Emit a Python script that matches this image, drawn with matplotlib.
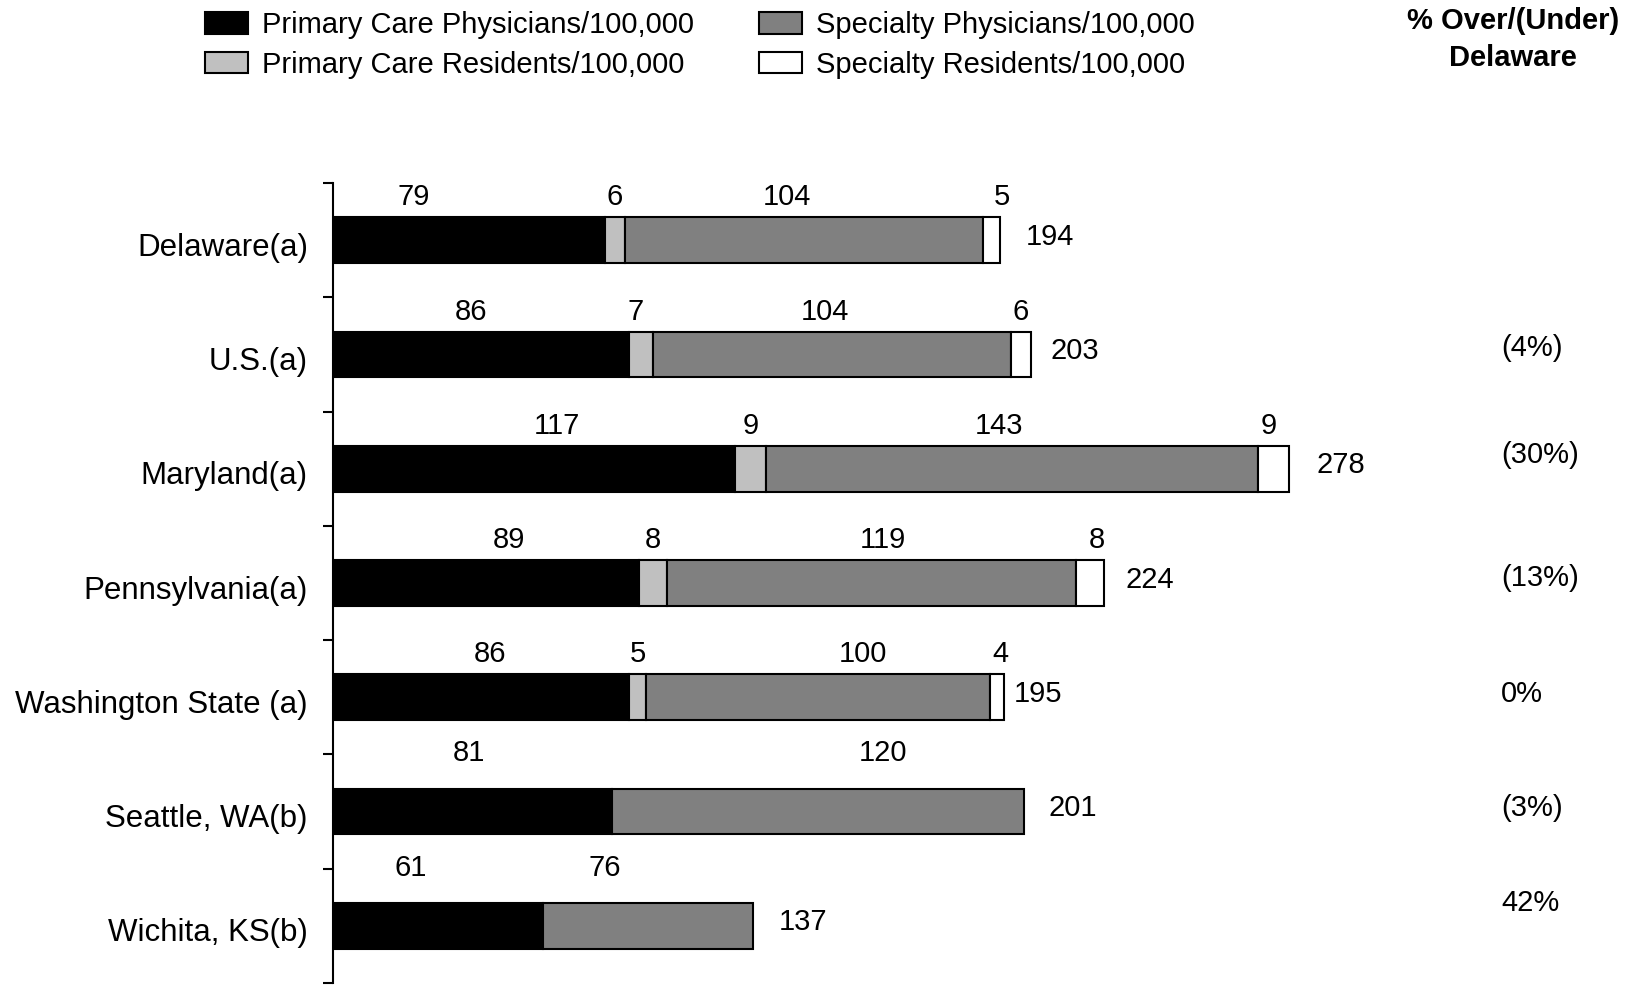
import numpy as np
import matplotlib
matplotlib.use("Agg")
import matplotlib.pyplot as plt
from matplotlib.patches import Patch
from matplotlib.transforms import ScaledTranslation

plt.rcParams['font.family'] = ['Liberation Sans', 'DejaVu Sans']

# data (bar lengths as drawn)
categories = ["Delaware(a)", "U.S.(a)", "Maryland(a)", "Pennsylvania(a)",
              "Washington State (a)", "Seattle, WA(b)", "Wichita, KS(b)"]
pc_phys = [79, 86, 117, 89, 86, 81, 61]
pc_res = [6, 7, 9, 8, 5, None, None]
sp_phys = [104, 104, 143, 119, 100, 120, 61]   # Wichita bar is drawn shorter than its label
sp_res = [5, 6, 9, 8, 4, None, None]

# printed labels
sp_phys_text = ["104", "104", "143", "119", "100", "120", "76"]
totals = [194, 203, 278, 224, 195, 201, 137]
pct_vs_delaware = ["", "(4%)", "(30%)", "(13%)", "0%", "(3%)", "42%"]

series_names = ["Primary Care Physicians/100,000", "Primary Care Residents/100,000",
                "Specialty Physicians/100,000", "Specialty Residents/100,000"]
colors = ["#000000", "#c0c0c0", "#808080", "#ffffff"]

# hand nudges of the value labels (data units), as placed in the original
label_dx = [[-16, 0, -5, 3], [-3, -1.5, -2, 0], [6.7, 0, -4, -1.5],
            [6.7, 0, 3.3, 2], [2.7, 0, 13, 1], [-1, 0, 19, 0], [-8, 0, -12.4, 0]]
pct_dy = [0, -0.06, -0.12, -0.04, -0.03, -0.03, -0.2]
total_dx = [7.5, 5.5, 8, 6.5, 3, 7, 7.5]

FS = 21
fig = plt.figure(figsize=(16.33, 9.85), dpi=100)
ax = fig.add_axes([333 / 1633, 0.002, 1 - 333 / 1633, 1 - 183 / 985 - 0.002])

y = np.arange(len(categories))
series = [pc_phys, pc_res, sp_phys, sp_res]
left = np.zeros(len(categories))
bh = 0.4
for k, (vals, col) in enumerate(zip(series, colors)):
    w = np.array([v if v is not None else 0 for v in vals], dtype=float)
    has = np.array([v is not None for v in vals])
    ax.barh(y[has], w[has], left=left[has], height=bh, color=col,
            edgecolor='black', linewidth=1.5)
    for i in np.where(has)[0]:
        off = 0.375 if pc_res[i] is not None else 0.51
        txt = sp_phys_text[i] if k == 2 else str(int(w[i]))
        ax.text(left[i] + w[i] / 2 + label_dx[i][k], y[i] - off, txt,
                ha='center', va='center', fontsize=FS)
    left = left + w

# totals to the right of each bar
for i, tot in enumerate(totals):
    ax.text(left[i] + total_dx[i], y[i] - 0.03, str(tot), ha='left',
            va='center', fontsize=FS)

# % over/(under) Delaware column
for i, p in enumerate(pct_vs_delaware):
    if p:
        ax.text(339.5, y[i] + pct_dy[i], p, ha='left', va='center', fontsize=FS)

ax.set_xlim(0, 1300 / 3.44)
ax.set_ylim(len(categories) - 0.5, -0.5)
ax.set_yticks(y)
ax.set_yticklabels(categories, fontsize=22.5)
ax.set_yticks(np.arange(-0.5, len(categories), 1), minor=True)
ax.tick_params(axis='y', which='major', length=0, pad=18)
ax.tick_params(axis='y', which='minor', length=7.5, width=1.5, direction='out')
for lbl in ax.get_yticklabels():
    lbl.set_transform(lbl.get_transform() + ScaledTranslation(0, -0.04, fig.dpi_scale_trans))
ax.set_xticks([])
for s in ['top', 'right', 'bottom']:
    ax.spines[s].set_visible(False)
ax.spines['left'].set_linewidth(1.5)

handles = [Patch(facecolor=c, edgecolor='black', linewidth=1.5) for c in colors]
fig.legend(handles, series_names, loc='upper left', ncol=2,
           bbox_to_anchor=(205 / 1633, 1 - 11 / 985), frameon=False,
           fontsize=FS, borderpad=0, borderaxespad=0, handlelength=1.47,
           handleheight=0.75, handletextpad=0.5, columnspacing=2.2,
           labelspacing=0.41)

fig.text(1513 / 1633, 1 - 39.5 / 985, "% Over/(Under)\nDelaware", ha='center',
         va='center', fontsize=FS, fontweight='bold', linespacing=1.38)

fig.savefig("out.png", dpi=100)
